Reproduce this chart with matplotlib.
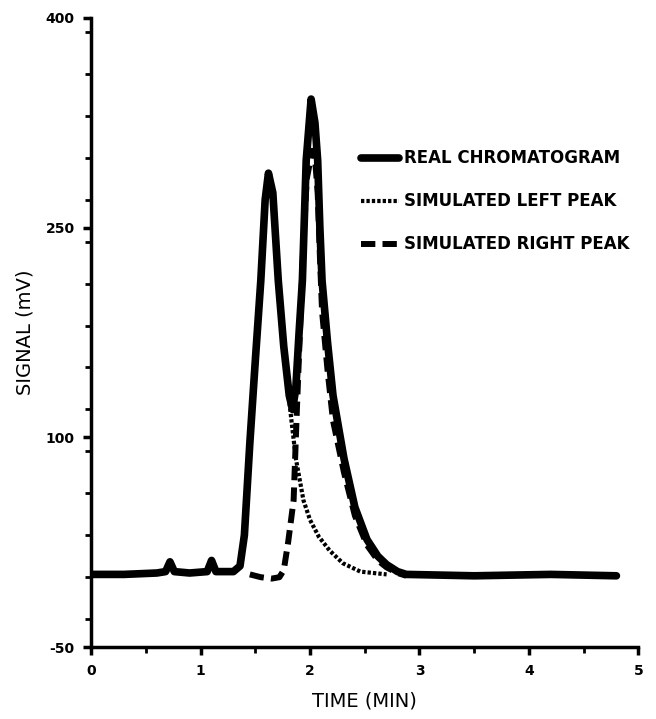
"""plot.py"""

import matplotlib
matplotlib.use("Agg")
import matplotlib.pyplot as plt
from matplotlib.ticker import MultipleLocator

plt.rcParams['axes.unicode_minus'] = False

# real chromatogram (time in min, signal in mV)
real_t = [0.0, 0.3, 0.6, 0.68, 0.72, 0.76, 0.9, 1.06, 1.10, 1.14, 1.30, 1.36,
          1.40, 1.45, 1.50, 1.55, 1.59, 1.62, 1.66, 1.71, 1.76, 1.81, 1.84,
          1.87, 1.90, 1.93, 1.965, 2.01, 2.045, 2.07, 2.09, 2.11, 2.16, 2.21,
          2.31, 2.41, 2.52, 2.62, 2.70, 2.80, 2.88, 3.5, 4.2, 4.8]
real_y = [2, 2, 3, 4, 11, 4, 3, 4, 12, 4, 4, 8,
          30, 96, 155, 212, 270, 289, 275, 212, 165, 130, 120,
          135, 175, 212, 298, 342, 325, 298, 250, 212, 168, 130,
          85, 50, 27, 15, 9, 4, 2, 1, 2, 1]

# simulated left peak
left_t = [1.30, 1.36, 1.40, 1.45, 1.50, 1.55, 1.59, 1.62, 1.66, 1.71, 1.76,
          1.81, 1.87, 1.94, 2.00, 2.08, 2.18, 2.30, 2.46, 2.70]
left_y = [4, 8, 30, 96, 155, 212, 270, 289, 275, 212, 165,
          126, 85, 55, 41, 29, 19, 10, 4, 2]

# simulated right peak
right_t = [1.45, 1.55, 1.65, 1.72, 1.76, 1.80, 1.85, 1.88, 1.91, 1.94, 1.97,
           2.02, 2.05, 2.07, 2.09, 2.11, 2.16, 2.21, 2.31, 2.41, 2.52, 2.62,
           2.70, 2.80, 2.88]
right_y = [2, 0, -1, 0, 5, 25, 55, 120, 180, 240, 285,
           305, 295, 275, 230, 190, 148, 112, 75, 44, 23, 12,
           7, 3, 1]

fig = plt.figure(figsize=(6.56, 7.19), dpi=100)
ax = fig.add_axes([0.139, 0.100, 0.834, 0.875])

ax.plot(real_t, real_y, color='black', lw=5.5, solid_capstyle='round',
        solid_joinstyle='round', label="REAL CHROMATOGRAM")
ax.plot(left_t, left_y, color='black', lw=3, ls=(0, (0.8, 0.5)),
        label="SIMULATED LEFT PEAK")
ax.plot(right_t, right_y, color='black', lw=4.3, ls=(0, (2.4, 1.2)),
        label="SIMULATED RIGHT PEAK")

ax.set_xlim(0, 5)
ax.set_ylim(-50, 400)
ax.set_xticks([0, 1, 2, 3, 4, 5])
ax.set_yticks([-50, 100, 250, 400])
ax.xaxis.set_minor_locator(MultipleLocator(0.5))
ax.yaxis.set_minor_locator(MultipleLocator(30))

for s in ['top', 'right']:
    ax.spines[s].set_visible(False)
for s in ['left', 'bottom']:
    ax.spines[s].set_linewidth(2.5)

ax.tick_params(which='major', length=6, width=2.5, labelsize=10, pad=6)
ax.tick_params(which='minor', length=4, width=2)
for lab in ax.get_xticklabels() + ax.get_yticklabels():
    lab.set_fontweight('bold')

ax.set_xlabel("TIME (MIN)", fontsize=14, labelpad=10)
ax.set_ylabel("SIGNAL (mV)", fontsize=14, labelpad=8)

ax.legend(loc='upper left', bbox_to_anchor=(0.466, 0.815), frameon=False,
          handlelength=2.3, handletextpad=0.3, labelspacing=1.5,
          prop={'size': 12, 'weight': 'bold'})

fig.savefig("out.png", dpi=100)
